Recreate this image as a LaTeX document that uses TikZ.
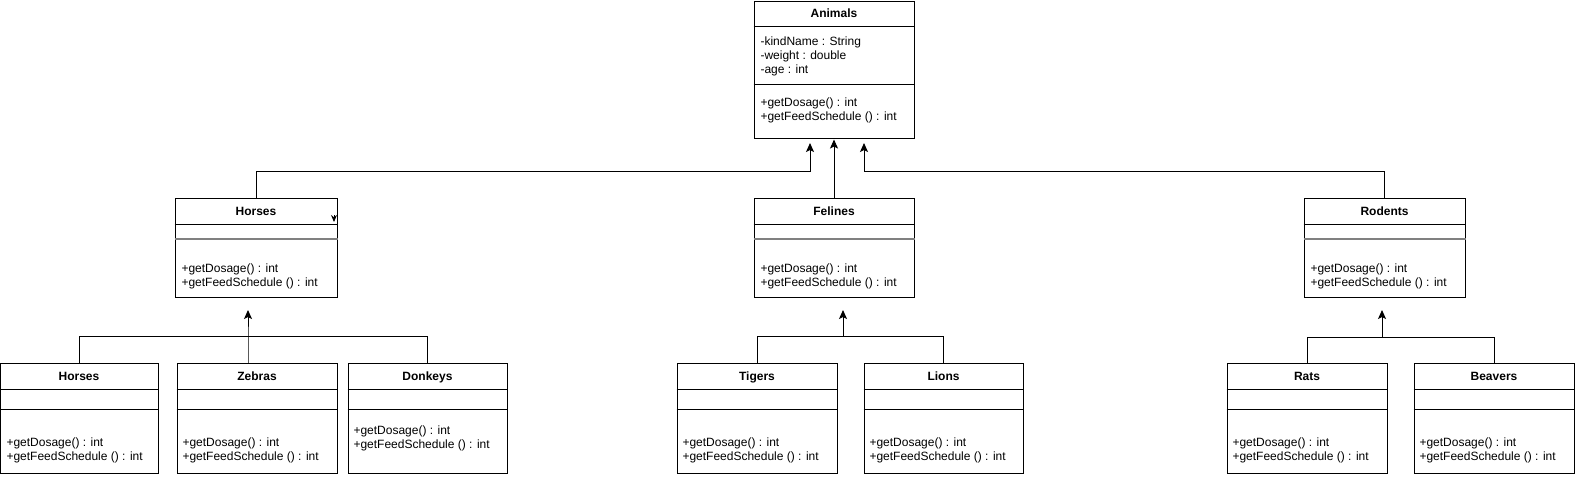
\documentclass[tikz,border=0pt]{standalone}
\usepackage{fontspec}
\setmainfont{Liberation Sans}
\usetikzlibrary{arrows.meta}

\tikzset{
  classbox/.style={draw, line width=1pt, inner sep=0pt, minimum width=160pt},
  ctitle/.style={font=\fontsize{12}{14}\selectfont\bfseries, inner sep=0pt, text height=8.6pt, text depth=0pt},
  ctext/.style={anchor=west, align=left, inner sep=0pt},
  graydiv/.style={draw=black!50, line width=2pt},
  inherit/.style={line width=1pt, -{Stealth[length=9pt,width=8pt,inset=2pt]}},
}

\begin{document}
\begin{tikzpicture}[x=1pt, y=-1pt, line width=1pt, font=\fontsize{12}{14}\selectfont]
\useasboundingbox (0,0) rectangle (1575,477);

% top class
\node[classbox, minimum height=137pt] (anim) at (834,69.5) {};
\node[ctitle] (animT) at (834,13) {Animals};
\draw (anim.west |- 0,26) -- (anim.east |- 0,26);
\draw (anim.west |- 0,84) -- (anim.east |- 0,84);
\node[ctext] (animA) at (760,56) {-kindName : String\\-weight : double\\-age : int};
\node[ctext] (animM) at (760,110) {+getDosage() : int\\+getFeedSchedule () : int};

% middle row
\node[classbox, minimum width=162pt, minimum height=99pt] (horsesM) at (256,247.5) {};
\node[ctitle] (horsesMT) at (256,211) {Horses};
\draw (horsesM.west |- 0,224) -- (horsesM.east |- 0,224);
\draw[graydiv] (horsesM.west |- 0,239) -- (horsesM.east |- 0,239);
\node[ctext] (horsesMM) at (181,276) {+getDosage() : int\\+getFeedSchedule () : int};

\node[classbox, minimum height=99pt] (felines) at (834,247.5) {};
\node[ctitle] (felinesT) at (834,211) {Felines};
\draw (felines.west |- 0,224) -- (felines.east |- 0,224);
\draw[graydiv] (felines.west |- 0,239) -- (felines.east |- 0,239);
\node[ctext] (felinesM) at (760,276) {+getDosage() : int\\+getFeedSchedule () : int};

\node[classbox, minimum width=161pt, minimum height=99pt] (rodents) at (1384.5,247.5) {};
\node[ctitle] (rodentsT) at (1384.5,211) {Rodents};
\draw (rodents.west |- 0,224) -- (rodents.east |- 0,224);
\draw[graydiv] (rodents.west |- 0,239) -- (rodents.east |- 0,239);
\node[ctext] (rodentsM) at (1310,276) {+getDosage() : int\\+getFeedSchedule () : int};

% bottom row
\node[classbox, minimum width=158pt, minimum height=110pt] (horsesB) at (79,418) {};
\node[ctitle] (horsesBT) at (79,376) {Horses};
\draw (horsesB.west |- 0,389) -- (horsesB.east |- 0,389);
\draw (horsesB.west |- 0,409) -- (horsesB.east |- 0,409);
\node[ctext] (horsesBM) at (6,450) {+getDosage() : int\\+getFeedSchedule () : int};

\node[classbox, minimum height=110pt] (zebras) at (257,418) {};
\node[ctitle] (zebrasT) at (257,376) {Zebras};
\draw (zebras.west |- 0,389) -- (zebras.east |- 0,389);
\draw (zebras.west |- 0,409) -- (zebras.east |- 0,409);
\node[ctext] (zebrasM) at (182,450) {+getDosage() : int\\+getFeedSchedule () : int};

\node[classbox, minimum width=159pt, minimum height=110pt] (donkeys) at (427.5,418) {};
\node[ctitle] (donkeysT) at (427.5,376) {Donkeys};
\draw (donkeys.west |- 0,389) -- (donkeys.east |- 0,389);
\draw (donkeys.west |- 0,409) -- (donkeys.east |- 0,409);
\node[ctext] (donkeysM) at (353,438) {+getDosage() : int\\+getFeedSchedule () : int};

\node[classbox, minimum height=110pt] (tigers) at (757,418) {};
\node[ctitle] (tigersT) at (757,376) {Tigers};
\draw (tigers.west |- 0,389) -- (tigers.east |- 0,389);
\draw (tigers.west |- 0,409) -- (tigers.east |- 0,409);
\node[ctext] (tigersM) at (682,450) {+getDosage() : int\\+getFeedSchedule () : int};

\node[classbox, minimum width=159pt, minimum height=110pt] (lions) at (943.5,418) {};
\node[ctitle] (lionsT) at (943.5,376) {Lions};
\draw (lions.west |- 0,389) -- (lions.east |- 0,389);
\draw (lions.west |- 0,409) -- (lions.east |- 0,409);
\node[ctext] (lionsM) at (869,450) {+getDosage() : int\\+getFeedSchedule () : int};

\node[classbox, minimum height=110pt] (rats) at (1307,418) {};
\node[ctitle] (ratsT) at (1307,376) {Rats};
\draw (rats.west |- 0,389) -- (rats.east |- 0,389);
\draw (rats.west |- 0,409) -- (rats.east |- 0,409);
\node[ctext] (ratsM) at (1232,450) {+getDosage() : int\\+getFeedSchedule () : int};

\node[classbox, minimum height=110pt] (beavers) at (1494,418) {};
\node[ctitle] (beaversT) at (1494,376) {Beavers};
\draw (beavers.west |- 0,389) -- (beavers.east |- 0,389);
\draw (beavers.west |- 0,409) -- (beavers.east |- 0,409);
\node[ctext] (beaversM) at (1419,450) {+getDosage() : int\\+getFeedSchedule () : int};

% inheritance into Animals
\coordinate (inL) at (810,143);
\coordinate (inR) at (864,143);
\draw[inherit] (horsesM.north) |- (inL |- 0,171) -- (inL);
\draw[inherit] (felines.north) -- ([yshift=-1pt]anim.south);
\draw[inherit] (rodents.north) |- (inR |- 0,171) -- (inR);

% stray tip on Horses
\coordinate (strayA) at (334,215);
\coordinate (strayB) at (334,222);
\draw[-{Stealth[length=7pt,width=6pt]}] (strayA) -- (strayB);

% inheritance into the middle row
\coordinate (hJoin) at (248,336);
\coordinate (hTip) at (248,310);
\draw (horsesB.north) |- (hJoin);
\draw (donkeys.north) |- (hJoin);
\draw[inherit] (zebras.north -| hJoin) -- (hJoin) -- (hTip);

\coordinate (fJoin) at (843,336);
\coordinate (fTip) at (843,310);
\draw (tigers.north) |- (fJoin);
\draw (lions.north) |- (fJoin);
\draw[inherit] (fJoin) -- (fTip);

\coordinate (rJoin) at (1382,337);
\coordinate (rTip) at (1382,310);
\draw (rats.north) |- (rJoin);
\draw (beavers.north) |- (rJoin);
\draw[inherit] (rJoin) -- (rTip);
\end{tikzpicture}
\end{document}
